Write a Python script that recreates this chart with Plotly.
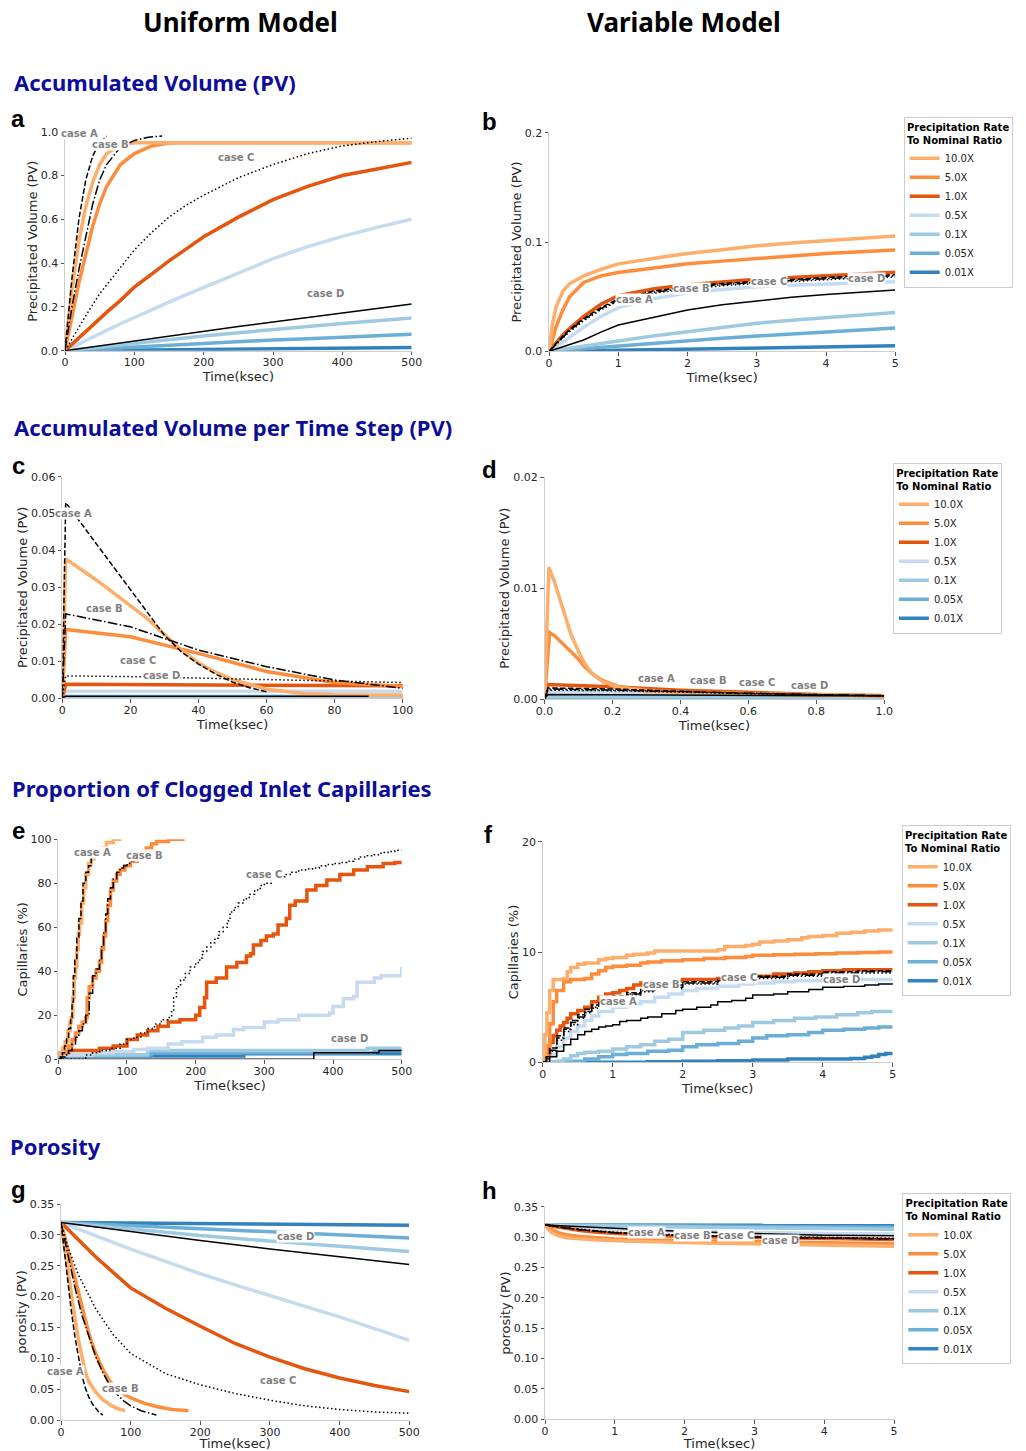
import plotly.graph_objects as go

W, H = 1026, 1451

RATES = ["10.0X", "5.0X", "1.0X", "0.5X", "0.1X", "0.05X", "0.01X"]
RATE_COLORS = ["#fdae6b", "#fd8d3c", "#e6550d", "#c6dbef", "#9ecae1", "#6baed6", "#3182bd"]
CASES = ["case A", "case B", "case C", "case D"]
CASE_DASH = ["5.5px,2.4px", "9.6px,2.4px,1.5px,2.4px", "1.5px,2.5px", "solid"]

# ---------------- panel a : uniform, accumulated volume ----------------
a_t = [0, 10, 20, 30, 40, 50, 60, 80, 100, 125, 150, 175, 200, 250, 300, 350, 400, 450, 500]
a_r10 = [0, 0.28, 0.5, 0.66, 0.77, 0.85, 0.9, 0.94, 0.95, 0.95, 0.95, 0.95, 0.95, 0.95, 0.95, 0.95, 0.95, 0.95, 0.95]
a_r5 = [0, 0.16, 0.31, 0.44, 0.57, 0.67, 0.75, 0.85, 0.9, 0.935, 0.948, 0.95, 0.95, 0.95, 0.95, 0.95, 0.95, 0.95, 0.95]
a_r1 = [0, 0.03, 0.06, 0.09, 0.12, 0.15, 0.175, 0.23, 0.29, 0.35, 0.41, 0.465, 0.52, 0.61, 0.69, 0.75, 0.8, 0.83, 0.86]
a_r05 = [0, 0.016, 0.032, 0.048, 0.063, 0.078, 0.093, 0.123, 0.152, 0.188, 0.222, 0.256, 0.289, 0.358, 0.42, 0.475, 0.522, 0.563, 0.6]
a_r01 = [0, 0.0035, 0.007, 0.0105, 0.014, 0.0175, 0.021, 0.028, 0.035, 0.043, 0.051, 0.059, 0.067, 0.082, 0.097, 0.111, 0.124, 0.137, 0.149]
a_r005 = [0, 0.0017, 0.0034, 0.0051, 0.0068, 0.0085, 0.0102, 0.0136, 0.017, 0.021, 0.025, 0.029, 0.033, 0.041, 0.049, 0.055, 0.062, 0.068, 0.075]
a_r001 = [0, 0.0003, 0.0006, 0.0009, 0.0012, 0.0015, 0.0018, 0.0024, 0.003, 0.0038, 0.0045, 0.0053, 0.006, 0.0075, 0.009, 0.0105, 0.012, 0.0135, 0.015]
a_caseA_t = [0, 10, 20, 30, 40, 50, 60]
a_caseA = [0, 0.33, 0.6, 0.78, 0.89, 0.95, 0.98]
a_caseB_t = [0, 10, 20, 30, 40, 50, 60, 80, 100, 120, 140]
a_caseB = [0, 0.2, 0.37, 0.52, 0.67, 0.78, 0.85, 0.93, 0.96, 0.975, 0.98]
a_caseC = [0, 0.055, 0.11, 0.16, 0.21, 0.26, 0.3, 0.38, 0.46, 0.54, 0.61, 0.665, 0.71, 0.79, 0.85, 0.9, 0.935, 0.955, 0.97]
a_caseD = [0, 0.0045, 0.009, 0.0135, 0.018, 0.0225, 0.027, 0.036, 0.045, 0.056, 0.067, 0.078, 0.089, 0.11, 0.131, 0.152, 0.172, 0.193, 0.213]
a_lab_x = [21.6, 65, 246.6, 376]
a_lab_y = [0.993, 0.942, 0.881, 0.259]

# ---------------- panel b : variable, accumulated volume ----------------
b_t = [0, 0.05, 0.1, 0.2, 0.3, 0.5, 0.75, 1, 1.5, 2, 2.5, 3, 3.5, 4, 4.5, 5]
b_r10 = [0, 0.025, 0.04, 0.055, 0.062, 0.069, 0.075, 0.08, 0.085, 0.0895, 0.093, 0.0965, 0.099, 0.101, 0.103, 0.1055]
b_r5 = [0, 0.012, 0.022, 0.038, 0.05, 0.063, 0.069, 0.072, 0.076, 0.08, 0.0825, 0.085, 0.087, 0.0895, 0.091, 0.0927]
b_r1 = [0, 0.004, 0.0075, 0.015, 0.021, 0.032, 0.043, 0.051, 0.057, 0.061, 0.0635, 0.066, 0.0675, 0.069, 0.0707, 0.0723]
b_r05 = [0, 0.002, 0.004, 0.0085, 0.013, 0.022, 0.032, 0.04, 0.048, 0.0535, 0.0565, 0.059, 0.0605, 0.0616, 0.0627, 0.0637]
b_t2 = [0, 0.5, 1, 1.5, 2, 2.5, 3, 3.5, 4, 4.5, 5]
b_r01 = [0, 0.005, 0.0095, 0.014, 0.018, 0.022, 0.0256, 0.0285, 0.031, 0.0333, 0.0354]
b_r005 = [0, 0.0025, 0.005, 0.0075, 0.0097, 0.012, 0.014, 0.016, 0.0177, 0.0195, 0.0213]
b_r001 = [0, 0.0005, 0.001, 0.0015, 0.002, 0.0025, 0.003, 0.0035, 0.004, 0.0045, 0.005]
b_caseA = [0, 0.0035, 0.007, 0.014, 0.02, 0.03, 0.04, 0.048, 0.055, 0.059, 0.062, 0.064, 0.066, 0.0675, 0.069, 0.07]
b_caseB = [0, 0.0033, 0.0066, 0.0133, 0.019, 0.029, 0.039, 0.047, 0.054, 0.058, 0.061, 0.063, 0.065, 0.0665, 0.068, 0.069]
b_caseC = [0, 0.003, 0.006, 0.0125, 0.018, 0.028, 0.038, 0.046, 0.053, 0.057, 0.06, 0.062, 0.064, 0.0655, 0.067, 0.068]
b_caseD = [0, 0.001, 0.002, 0.004, 0.006, 0.0104, 0.0175, 0.024, 0.031, 0.0378, 0.0425, 0.0463, 0.0495, 0.052, 0.0542, 0.056]
b_lab_x = [1.24, 2.06, 3.17, 4.59]
b_lab_y = [0.047, 0.0577, 0.0637, 0.067]

# ---------------- panel c : uniform, volume per time step ----------------
c_r10_t = [0, 1, 10, 20, 25, 30, 35, 40, 45, 50, 60, 70, 80, 90, 100]
c_r10 = [0, 0.0377, 0.032, 0.025, 0.0215, 0.0172, 0.013, 0.0095, 0.007, 0.005, 0.0024, 0.0013, 0.0009, 0.0008, 0.0008]
c_r5_t = [0, 1, 20, 40, 60, 80, 100]
c_r5 = [0, 0.0186, 0.0166, 0.0121, 0.0072, 0.0042, 0.0031]
c_flat_t = [0, 1, 100]
c_r1 = [0, 0.0037, 0.0033]
c_r05 = [0, 0.0018, 0.0018]
c_r01 = [0, 0.0005, 0.0005]
c_r005 = [0, 0.0003, 0.0003]
c_r001 = [0, 0.0001, 0.0001]
c_caseA_t = [0, 1, 10, 20, 25, 30, 35, 40, 45, 50, 55, 60]
c_caseA = [0, 0.053, 0.0418, 0.0294, 0.023, 0.017, 0.0125, 0.0092, 0.0065, 0.0043, 0.0028, 0.0017]
c_caseB_t = [0, 1, 20, 40, 60, 80, 100]
c_caseB = [0, 0.0228, 0.0193, 0.013, 0.0085, 0.0049, 0.0026]
c_caseC_t = [0, 1, 20, 50, 100]
c_caseC = [0, 0.006, 0.0058, 0.0052, 0.0042]
c_caseD_t = [0, 1, 90]
c_caseD = [0, 0.0005, 0.0005]
c_lab_x = [3.2, 12.25, 22.1, 29]
c_lab_y = [0.050, 0.0243, 0.0101, 0.006]

# ---------------- panel d : variable, volume per time step ----------------
d_r10_t = [0, 0.013, 0.03, 0.046, 0.06, 0.077, 0.1, 0.118, 0.14, 0.169, 0.22, 0.3, 0.4, 0.6, 0.8, 1.0]
d_r10 = [0, 0.0119, 0.0105, 0.0089, 0.0074, 0.0059, 0.0043, 0.0032, 0.0023, 0.0016, 0.001, 0.0007, 0.0006, 0.00045, 0.00035, 0.0003]
d_r5_t = [0, 0.015, 0.03, 0.05, 0.077, 0.1, 0.118, 0.14, 0.169, 0.22, 0.3, 0.4, 0.6, 0.8, 1.0]
d_r5 = [0, 0.006, 0.0057, 0.0051, 0.0044, 0.0036, 0.0029, 0.0023, 0.0017, 0.0011, 0.0008, 0.0006, 0.00045, 0.00035, 0.0003]
d_t = [0, 0.01, 0.2, 0.4, 0.6, 0.8, 1.0]
d_r1 = [0, 0.0013, 0.0011, 0.0008, 0.0006, 0.0004, 0.0003]
d_r05 = [0, 0.0007, 0.0006, 0.0005, 0.0004, 0.0003, 0.00025]
d_r01 = [0, 0.0002, 0.0002, 0.0002, 0.00018, 0.00016, 0.00015]
d_r005 = [0, 0.0001, 0.0001, 0.0001, 0.0001, 0.00009, 0.00008]
d_r001 = [0, 0.00002, 0.00002, 0.00002, 0.00002, 0.00002, 0.00002]
d_caseA = [0, 0.001, 0.0009, 0.0007, 0.0005, 0.0004, 0.0003]
d_caseB = [0, 0.0009, 0.0008, 0.00065, 0.0005, 0.0004, 0.0003]
d_caseC = [0, 0.0008, 0.00075, 0.0006, 0.00048, 0.00038, 0.00028]
d_caseD = [0, 0.0004, 0.00038, 0.00035, 0.00033, 0.0003, 0.00028]
d_lab_x = [0.33, 0.482, 0.626, 0.78]
d_lab_y = [0.00187, 0.00169, 0.00148, 0.00126]

# ---------------- panel e : uniform, clogged capillaries ----------------
e_r10_t = [0, 3, 6, 10, 14, 17, 19, 21, 23, 25, 27, 29, 31, 34, 37, 40, 44, 48, 52, 56, 62, 70, 80, 92]
e_r10 = [2, 3, 5, 8, 13, 17, 19, 28, 37, 42, 50, 57, 62, 71, 78, 84, 89, 91, 93, 94, 96, 98.5, 100, 100]
e_r5_t = [0, 5, 10, 15, 20, 25, 30, 35, 40, 42, 45, 50, 55, 60, 63, 66, 69, 72, 76, 80, 85, 90, 97, 105, 115, 128, 136, 143, 160, 184]
e_r5 = [2, 3, 4, 6, 9, 12, 15, 17, 19, 28, 33, 37, 40, 44, 50, 56, 63, 70, 77, 81, 84, 86, 88, 90, 93, 96, 98, 99, 100, 100]
e_r1_t = [0, 15, 35, 60, 80, 100, 115, 130, 145, 160, 177, 200, 206, 213, 216, 230, 245, 260, 274, 280, 284, 295, 303, 313, 320, 332, 337, 345, 362, 375, 391, 410, 430, 450, 473, 490, 500]
e_r1 = [3, 4, 4, 5, 6, 9, 11, 13, 15, 17, 18, 20, 23.5, 28, 35, 37, 42, 44, 47, 48, 52, 54, 56, 57, 61, 64, 70, 72, 77, 79, 81.5, 84, 86, 87.5, 89, 89.5, 90]
e_r05_t = [0, 50, 80, 110, 130, 160, 180, 210, 230, 255, 270, 300, 320, 350, 370, 395, 400, 415, 430, 435, 460, 470, 500]
e_r05 = [2, 3, 3.5, 4.5, 5, 7, 8, 10, 11, 13.5, 14.5, 17, 18, 20, 20, 21, 24, 27.5, 28.5, 35, 37, 38, 42]
e_r01_t = [0, 130, 450, 500]
e_r01 = [2, 4, 5, 5]
e_r005_t = [0, 135, 270, 460, 500]
e_r005 = [2, 3, 3, 4, 4]
e_r001_t = [0, 270, 500]
e_r001 = [1.5, 2.5, 2.5]
e_caseA_t = [0, 3, 6, 9, 12, 15, 18, 20, 22, 24, 27, 30, 33, 36, 40, 44, 48]
e_caseA = [0, 1, 3, 6, 10, 14, 19, 26, 38, 45, 55, 64, 72, 80, 85, 88, 92]
e_caseB_t = [0, 5, 10, 15, 20, 25, 30, 35, 40, 45, 50, 55, 60, 63, 66, 69, 72, 76, 80, 85, 90, 95, 100, 105, 110, 120, 130, 137]
e_caseB = [0, 1, 2, 4, 7, 10, 13, 16, 20, 30, 38, 41, 45, 52, 58, 66, 73, 78, 82, 85, 87, 88, 89, 90, 91, 93, 94.5, 95]
e_caseC_t = [0, 34, 40, 50, 60, 75, 90, 100, 110, 120, 130, 140, 150, 160, 165, 168, 172, 178, 185, 192, 200, 206, 210, 216, 222, 228, 234, 240, 246, 250, 256, 262, 270, 278, 286, 294, 300, 310, 320, 330, 340, 350, 360, 370, 380, 390, 400, 410, 420, 430, 440, 450, 460, 470, 480, 490, 500]
e_caseC = [0, 0, 2, 3, 4, 5, 7, 9, 10, 12, 14, 16, 18, 19, 22, 28, 33, 36, 39, 42, 44, 46, 49, 51, 53, 55, 58, 60, 63, 67, 69, 71, 73, 75, 77, 79, 80, 82, 83, 84, 85, 86, 86.5, 87, 88, 88.5, 89, 89.5, 90, 91, 92, 92.5, 93, 94, 94.5, 95, 95]
e_caseD_t = [0, 372, 467, 500]
e_caseD = [0, 3, 4, 4]
e_lab_x = [50, 126, 300, 424.7]
e_lab_y = [94, 92.5, 83.8, 9.5]

# ---------------- panel f : variable, clogged capillaries ----------------
f_r10_t = [0, 0.03, 0.06, 0.1, 0.15, 0.3, 0.35, 0.4, 0.5, 0.6, 0.8, 0.9, 1.0, 1.2, 1.3, 1.5, 1.6, 2.0, 2.5, 2.6, 2.9, 3.0, 3.1, 3.3, 3.5, 3.7, 3.8, 4.0, 4.2, 4.4, 4.6, 4.8, 5.0]
f_r10 = [0, 2.5, 4.5, 6.5, 7.5, 7.6, 8.2, 8.6, 8.9, 9.0, 9.3, 9.4, 9.5, 9.7, 9.8, 9.9, 10.1, 10.1, 10.2, 10.5, 10.6, 10.7, 10.9, 11.0, 11.1, 11.3, 11.4, 11.5, 11.7, 11.8, 11.9, 12.0, 12.1]
f_r5_t = [0, 0.05, 0.1, 0.15, 0.2, 0.3, 0.4, 0.6, 0.7, 0.8, 0.9, 1.0, 1.2, 1.4, 1.5, 1.7, 2.0, 2.3, 2.6, 2.9, 3.0, 3.3, 3.6, 3.9, 4.2, 4.5, 4.8, 5.0]
f_r5 = [0, 1.5, 3.5, 5.5, 6.5, 7.3, 7.5, 7.6, 8.0, 8.3, 8.6, 8.7, 8.8, 9.0, 9.1, 9.2, 9.3, 9.4, 9.5, 9.6, 9.7, 9.75, 9.8, 9.85, 9.9, 9.95, 10.0, 10.0]
f_r1_t = [0, 0.05, 0.1, 0.15, 0.2, 0.25, 0.3, 0.35, 0.4, 0.5, 0.6, 0.7, 0.8, 0.9, 1.0, 1.1, 1.2, 1.3, 1.4, 1.5, 2.0, 2.5, 3.0, 3.3, 3.6, 3.8, 4.0, 4.3, 4.6, 5.0]
f_r1 = [0, 0.8, 1.8, 2.4, 2.9, 3.3, 3.6, 4.0, 4.4, 4.7, 5.0, 5.5, 5.9, 6.2, 6.3, 6.5, 6.7, 7.0, 7.2, 7.4, 7.5, 7.6, 7.8, 8.0, 8.1, 8.2, 8.3, 8.4, 8.4, 8.4]
f_r05_t = [0, 0.1, 0.2, 0.3, 0.4, 0.5, 0.6, 0.7, 0.8, 1.0, 1.2, 1.4, 1.6, 1.8, 2.0, 2.2, 2.5, 2.8, 3.0, 3.3, 3.6, 4.0, 4.5, 5.0]
f_r05 = [0, 0.7, 1.4, 2.2, 2.8, 3.3, 3.8, 4.2, 4.6, 5.0, 5.3, 5.5, 5.9, 6.2, 6.5, 6.7, 6.9, 7.1, 7.2, 7.3, 7.4, 7.5, 7.5, 7.6]
f_r01_t = [0, 0.2, 0.3, 0.4, 0.5, 0.6, 0.8, 1.0, 1.2, 1.4, 1.6, 1.8, 2.0, 2.3, 2.6, 2.8, 3.0, 3.3, 3.6, 3.9, 4.2, 4.5, 4.7, 5.0]
f_r01 = [0, 0.1, 0.3, 0.6, 0.8, 0.9, 1.0, 1.2, 1.4, 1.6, 1.9, 2.1, 2.7, 2.9, 3.1, 3.3, 3.6, 3.8, 4.0, 4.1, 4.3, 4.5, 4.6, 4.6]
f_r005_t = [0, 0.4, 0.6, 0.8, 1.0, 1.2, 1.5, 1.8, 2.0, 2.2, 2.5, 2.8, 3.0, 3.2, 3.5, 3.8, 4.0, 4.3, 4.6, 4.8, 5.0]
f_r005 = [0, 0.1, 0.3, 0.5, 0.7, 0.8, 1.0, 1.1, 1.4, 1.6, 1.7, 1.9, 2.2, 2.4, 2.5, 2.7, 2.9, 3.0, 3.1, 3.2, 3.2]
f_r001_t = [0, 1.0, 1.5, 2.0, 2.5, 3.0, 3.5, 4.0, 4.4, 4.6, 4.7, 4.8, 4.9, 5.0]
f_r001 = [0, 0, 0.05, 0.1, 0.15, 0.2, 0.3, 0.3, 0.35, 0.45, 0.55, 0.7, 0.8, 0.8]
f_case_t = [0, 0.05, 0.1, 0.2, 0.3, 0.4, 0.5, 0.6, 0.7, 0.8, 0.9, 1.0, 1.2, 1.4, 1.6, 2.0, 2.5, 3.0, 3.5, 4.0, 4.5, 5.0]
f_caseA = [0, 0.5, 1.3, 2.4, 3.1, 3.8, 4.3, 4.8, 5.2, 5.5, 5.8, 6.0, 6.3, 6.6, 7.0, 7.3, 7.5, 7.8, 8.0, 8.2, 8.3, 8.3]
f_caseB = [0, 0.4, 1.1, 2.2, 3.0, 3.6, 4.1, 4.6, 5.0, 5.4, 5.7, 5.9, 6.2, 6.5, 6.8, 7.2, 7.4, 7.7, 7.9, 8.1, 8.2, 8.2]
f_caseC = [0, 0.3, 1.0, 2.0, 2.8, 3.4, 4.0, 4.5, 4.9, 5.2, 5.5, 5.8, 6.1, 6.4, 6.7, 7.1, 7.4, 7.6, 7.8, 8.0, 8.1, 8.1]
f_caseD_t = [0, 0.1, 0.2, 0.3, 0.4, 0.5, 0.6, 0.7, 0.8, 0.9, 1.0, 1.1, 1.2, 1.4, 1.5, 1.7, 1.9, 2.0, 2.2, 2.4, 2.5, 2.7, 2.9, 3.0, 3.3, 3.5, 3.8, 4.0, 4.3, 4.6, 4.8, 5.0]
f_caseD = [0, 0.5, 1.0, 1.6, 2.1, 2.5, 2.8, 3.0, 3.2, 3.3, 3.4, 3.7, 3.8, 4.0, 4.1, 4.4, 4.7, 4.8, 5.0, 5.2, 5.5, 5.6, 5.8, 6.1, 6.2, 6.4, 6.6, 6.8, 6.9, 7.0, 7.1, 7.2]
f_lab_x = [1.08, 1.7, 2.8, 4.27]
f_lab_y = [5.47, 7.04, 7.7, 7.5]

# ---------------- panel g : uniform, porosity ----------------
g_t = [0, 50, 100, 150, 200, 250, 300, 350, 400, 450, 500]
g_r10_t = [0, 5, 10, 15, 20, 25, 30, 35, 40, 50, 60, 70, 80, 92]
g_r10 = [0.32, 0.28, 0.245, 0.205, 0.165, 0.13, 0.1, 0.077, 0.062, 0.045, 0.033, 0.025, 0.019, 0.015]
g_r5_t = [0, 10, 20, 30, 40, 50, 60, 70, 80, 90, 100, 120, 140, 160, 183]
g_r5 = [0.32, 0.275, 0.225, 0.18, 0.14, 0.107, 0.082, 0.063, 0.05, 0.042, 0.036, 0.027, 0.021, 0.017, 0.015]
g_r1 = [0.32, 0.264, 0.214, 0.181, 0.152, 0.124, 0.102, 0.083, 0.068, 0.056, 0.046]
g_r05 = [0.32, 0.298, 0.277, 0.257, 0.237, 0.219, 0.201, 0.184, 0.167, 0.148, 0.129]
g_lin_t = [0, 100, 200, 300, 400, 500]
g_r01 = [0.32, 0.309, 0.299, 0.29, 0.281, 0.273]
g_r005 = [0.32, 0.315, 0.31, 0.305, 0.3, 0.295]
g_r001 = [0.32, 0.319, 0.318, 0.317, 0.316, 0.3155]
g_caseA_t = [0, 5, 10, 15, 20, 25, 30, 35, 40, 45, 50, 55, 60]
g_caseA = [0.32, 0.27, 0.22, 0.175, 0.135, 0.1, 0.072, 0.052, 0.037, 0.026, 0.018, 0.012, 0.008]
g_caseB_t = [0, 10, 20, 30, 40, 50, 60, 70, 80, 90, 100, 115, 137]
g_caseB = [0.32, 0.265, 0.215, 0.17, 0.135, 0.102, 0.077, 0.056, 0.042, 0.031, 0.023, 0.015, 0.008]
g_caseC_t = [0, 10, 25, 50, 75, 100, 150, 200, 250, 300, 350, 400, 450, 500]
g_caseC = [0.32, 0.28, 0.235, 0.18, 0.138, 0.108, 0.075, 0.057, 0.043, 0.032, 0.023, 0.017, 0.013, 0.011]
g_caseD = [0.32, 0.305, 0.291, 0.277, 0.264, 0.252]
g_lab_x = [6.7, 86, 312, 336]
g_lab_y = [0.079, 0.051, 0.0648, 0.298]

# ---------------- panel h : variable, porosity ----------------
h_t = [0, 0.05, 0.1, 0.2, 0.3, 0.5, 0.75, 1, 1.5, 2, 2.5, 3, 3.5, 4, 4.5, 5]
h_r10 = [0.32, 0.312, 0.307, 0.302, 0.299, 0.297, 0.295, 0.294, 0.292, 0.291, 0.29, 0.289, 0.288, 0.287, 0.286, 0.285]
h_r5 = [0.32, 0.316, 0.312, 0.307, 0.304, 0.301, 0.299, 0.297, 0.295, 0.294, 0.293, 0.292, 0.291, 0.29, 0.29, 0.289]
h_r1 = [0.32, 0.319, 0.318, 0.316, 0.314, 0.311, 0.308, 0.306, 0.303, 0.301, 0.3, 0.299, 0.298, 0.297, 0.296, 0.296]
h_caseA = [0.32, 0.319, 0.318, 0.316, 0.315, 0.312, 0.309, 0.307, 0.304, 0.302, 0.301, 0.3, 0.299, 0.298, 0.297, 0.297]
h_caseB = [0.32, 0.319, 0.318, 0.317, 0.315, 0.312, 0.31, 0.307, 0.305, 0.303, 0.301, 0.3, 0.299, 0.298, 0.298, 0.297]
h_caseC = [0.32, 0.319, 0.318, 0.317, 0.315, 0.313, 0.31, 0.308, 0.305, 0.303, 0.302, 0.301, 0.3, 0.299, 0.298, 0.298]
h_t2 = [0, 1, 2, 3, 4, 5]
h_r05 = [0.32, 0.313, 0.309, 0.307, 0.306, 0.305]
h_r01 = [0.32, 0.318, 0.316, 0.315, 0.314, 0.313]
h_r005 = [0.32, 0.319, 0.318, 0.317, 0.317, 0.316]
h_r001 = [0.32, 0.3198, 0.3196, 0.3195, 0.3194, 0.3193]
h_caseD_t = [0, 0.5, 1, 2, 3, 4, 5]
h_caseD = [0.32, 0.317, 0.314, 0.309, 0.306, 0.303, 0.302]
h_lab_x = [1.45, 2.11, 2.73, 3.37]
h_lab_y = [0.308, 0.3034, 0.3018, 0.295]

# ---------------- assemble ----------------
panels = [
    dict(letter="a", rates=[(a_t, a_r10), (a_t, a_r5), (a_t, a_r1), (a_t, a_r05), (a_t, a_r01), (a_t, a_r005), (a_t, a_r001)],
         cases=[(a_caseA_t, a_caseA), (a_caseB_t, a_caseB), (a_t, a_caseC), (a_t, a_caseD)],
         labx=a_lab_x, laby=a_lab_y, px=(65, 411.7), py=(131.7, 350.7), xr=[0, 500], yr=[0, 1.0],
         dx=100, dy=0.2, xf="d", yf=".1f", ytitle="Precipitated Volume (PV)", legend=None, shape="linear"),
    dict(letter="b", rates=[(b_t, b_r10), (b_t, b_r5), (b_t, b_r1), (b_t, b_r05), (b_t2, b_r01), (b_t2, b_r005), (b_t2, b_r001)],
         cases=[(b_t, b_caseA), (b_t, b_caseB), (b_t, b_caseC), (b_t, b_caseD)],
         labx=b_lab_x, laby=b_lab_y, px=(549, 895.3), py=(132.7, 351.3), xr=[0, 5], yr=[0, 0.2],
         dx=1, dy=0.1, xf="d", yf=".1f", ytitle="Precipitated Volume (PV)", legend=("legend", 903.7, 116.7), shape="linear"),
    dict(letter="c", rates=[(c_r10_t, c_r10), (c_r5_t, c_r5), (c_flat_t, c_r1), (c_flat_t, c_r05), (c_flat_t, c_r01), (c_flat_t, c_r005), (c_flat_t, c_r001)],
         cases=[(c_caseA_t, c_caseA), (c_caseB_t, c_caseB), (c_caseC_t, c_caseC), (c_caseD_t, c_caseD)],
         labx=c_lab_x, laby=c_lab_y, px=(62.3, 402.7), py=(476.7, 698), xr=[0, 100], yr=[0, 0.06],
         dx=20, dy=0.01, xf="d", yf=".2f", ytitle="Precipitated Volume (PV)", legend=None, shape="linear"),
    dict(letter="d", rates=[(d_r10_t, d_r10), (d_r5_t, d_r5), (d_t, d_r1), (d_t, d_r05), (d_t, d_r01), (d_t, d_r005), (d_t, d_r001)],
         cases=[(d_t, d_caseA), (d_t, d_caseB), (d_t, d_caseC), (d_t, d_caseD)],
         labx=d_lab_x, laby=d_lab_y, px=(544.5, 884.2), py=(477.3, 699), xr=[0, 1], yr=[0, 0.02],
         dx=0.2, dy=0.01, xf=".1f", yf=".2f", ytitle="Precipitated Volume (PV)", legend=("legend2", 892.9, 462.7), shape="linear"),
    dict(letter="e", rates=[(e_r10_t, e_r10), (e_r5_t, e_r5), (e_r1_t, e_r1), (e_r05_t, e_r05), (e_r01_t, e_r01), (e_r005_t, e_r005), (e_r001_t, e_r001)],
         cases=[(e_caseA_t, e_caseA), (e_caseB_t, e_caseB), (e_caseC_t, e_caseC), (e_caseD_t, e_caseD)],
         labx=e_lab_x, laby=e_lab_y, px=(58.3, 401.7), py=(839.3, 1059.3), xr=[0, 500], yr=[0, 100],
         dx=100, dy=20, xf="d", yf="d", ytitle="Capillaries (%)", legend=None, shape="hv"),
    dict(letter="f", rates=[(f_r10_t, f_r10), (f_r5_t, f_r5), (f_r1_t, f_r1), (f_r05_t, f_r05), (f_r01_t, f_r01), (f_r005_t, f_r005), (f_r001_t, f_r001)],
         cases=[(f_case_t, f_caseA), (f_case_t, f_caseB), (f_case_t, f_caseC), (f_caseD_t, f_caseD)],
         labx=f_lab_x, laby=f_lab_y, px=(542.7, 892.7), py=(841.7, 1062.3), xr=[0, 5], yr=[0, 20],
         dx=1, dy=10, xf="d", yf="d", ytitle="Capillaries (%)", legend=("legend3", 901.7, 825.3), shape="hv"),
    dict(letter="g", rates=[(g_r10_t, g_r10), (g_r5_t, g_r5), (g_t, g_r1), (g_t, g_r05), (g_lin_t, g_r01), (g_lin_t, g_r005), (g_lin_t, g_r001)],
         cases=[(g_caseA_t, g_caseA), (g_caseB_t, g_caseB), (g_caseC_t, g_caseC), (g_lin_t, g_caseD)],
         labx=g_lab_x, laby=g_lab_y, px=(61, 409.3), py=(1204, 1420), xr=[0, 500], yr=[0, 0.35],
         dx=100, dy=0.05, xf="d", yf=".2f", ytitle="porosity (PV)", legend=None, shape="linear"),
    dict(letter="h", rates=[(h_t, h_r10), (h_t, h_r5), (h_t, h_r1), (h_t2, h_r05), (h_t2, h_r01), (h_t2, h_r005), (h_t2, h_r001)],
         cases=[(h_t, h_caseA), (h_t, h_caseB), (h_t, h_caseC), (h_caseD_t, h_caseD)],
         labx=h_lab_x, laby=h_lab_y, px=(545, 894), py=(1206.7, 1419.3), xr=[0, 5], yr=[0, 0.35],
         dx=1, dy=0.05, xf="d", yf=".2f", ytitle="porosity (PV)", legend=("legend4", 902.3, 1193.3), shape="linear"),
]

FAM = "DejaVu Sans, Verdana, sans-serif"
TICKFONT = dict(family=FAM, size=11, color="#262626")
TITLEFONT = dict(family=FAM, size=13, color="#262626")

fig = go.Figure()
layout = dict(width=W, height=H, margin=dict(l=0, r=0, t=0, b=0, pad=0, autoexpand=False),
              paper_bgcolor="white", plot_bgcolor="white", showlegend=True)
annotations = []

for i, p in enumerate(panels, start=1):
    xa = "x" if i == 1 else f"x{i}"
    ya = "y" if i == 1 else f"y{i}"
    xkey = "xaxis" if i == 1 else f"xaxis{i}"
    ykey = "yaxis" if i == 1 else f"yaxis{i}"
    layout[xkey] = dict(domain=[p["px"][0] / W, p["px"][1] / W], range=p["xr"], anchor=ya,
                        dtick=p["dx"], tick0=0, tickformat=p["xf"], showline=True, linecolor="#cccccc",
                        linewidth=1, ticks="outside", ticklen=3.5, tickcolor="#555555", tickwidth=1,
                        showgrid=False, zeroline=False, tickfont=TICKFONT, automargin=False,
                        ticklabelstandoff=-2,
                        title=dict(text="Time(ksec)", font=TITLEFONT, standoff=3))
    layout[ykey] = dict(domain=[1 - p["py"][1] / H, 1 - p["py"][0] / H], range=p["yr"], anchor=xa,
                        dtick=p["dy"], tick0=0, tickformat=p["yf"], showline=True, linecolor="#cccccc",
                        linewidth=1, ticks="outside", ticklen=3.5, tickcolor="#555555", tickwidth=1,
                        showgrid=False, zeroline=False, tickfont=TICKFONT, automargin=False,
                        title=dict(text=p["ytitle"], font=TITLEFONT, standoff=0))
    leg = p["legend"]
    # coloured rate curves (drawn light-last so 10.0X sits on top)
    for k in reversed(range(len(RATES))):
        xs, ys = p["rates"][k]
        fig.add_trace(go.Scatter(
            x=xs, y=ys, mode="lines", name=RATES[k], xaxis=xa, yaxis=ya,
            line=dict(color=RATE_COLORS[k], width=3.5, shape=p["shape"]),
            showlegend=leg is not None, legend=leg[0] if leg else "legend",
            hoverinfo="skip"))
    for k in range(len(CASES)):
        xs, ys = p["cases"][k]
        fig.add_trace(go.Scatter(
            x=xs, y=ys, mode="lines", name=CASES[k], xaxis=xa, yaxis=ya,
            line=dict(color="black", width=1.5, dash=CASE_DASH[k], shape=p["shape"]),
            showlegend=False, hoverinfo="skip"))
        annotations.append(dict(x=p["labx"][k], y=p["laby"][k], xref=xa, yref=ya,
                                text=f"<b>{CASES[k]}</b>", showarrow=False,
                                font=dict(family=FAM, size=10, color="#808080"),
                                bgcolor="white", borderpad=0))
    if leg:
        layout[leg[0]] = dict(x=leg[1] / W, y=1 - leg[2] / H, xanchor="left", yanchor="top",
                              bgcolor="white", bordercolor="#cccccc", borderwidth=1,
                              font=dict(family=FAM, size=10, color="#222222"),
                              traceorder="reversed", itemwidth=30, tracegroupgap=0,
                              title=dict(text="<b>Precipitation Rate<br>To Nominal Ratio</b>",
                                         side="top center",
                                         font=dict(family=FAM, size=10, color="black")))

# panel letters
letter_pos = [(18, 118), (489, 122), (18, 465), (489, 470), (18, 830), (488, 835), (18, 1189), (489, 1190)]
for p, (lx, ly) in zip(panels, letter_pos):
    annotations.append(dict(x=lx / W, y=1 - ly / H, xref="paper", yref="paper", text=f"<b>{p['letter']}</b>",
                            showarrow=False, xanchor="center", yanchor="middle",
                            font=dict(family="Liberation Sans, Arial, sans-serif", size=24, color="black")))

# column headers
for txt, cx in [("Uniform Model", 240), ("Variable Model", 684)]:
    annotations.append(dict(x=cx / W, y=1 - 22 / H, xref="paper", yref="paper", text=f"<b>{txt}</b>",
                            showarrow=False, xanchor="center", yanchor="middle",
                            font=dict(family="Noto Sans, sans-serif", size=26, color="black")))

# section titles
for txt, sx, sy in [("Accumulated Volume (PV)", 12, 82),
                    ("Accumulated Volume per Time Step (PV)", 12, 427),
                    ("Proportion of Clogged Inlet Capillaries", 10, 788),
                    ("Porosity", 8, 1146)]:
    annotations.append(dict(x=sx / W, y=1 - sy / H, xref="paper", yref="paper", text=f"<b>{txt}</b>",
                            showarrow=False, xanchor="left", yanchor="middle",
                            font=dict(family="Noto Sans, sans-serif", size=22, color="#0d0d9c")))

layout["annotations"] = annotations
fig.update_layout(**layout)
fig.write_html("out.html")
